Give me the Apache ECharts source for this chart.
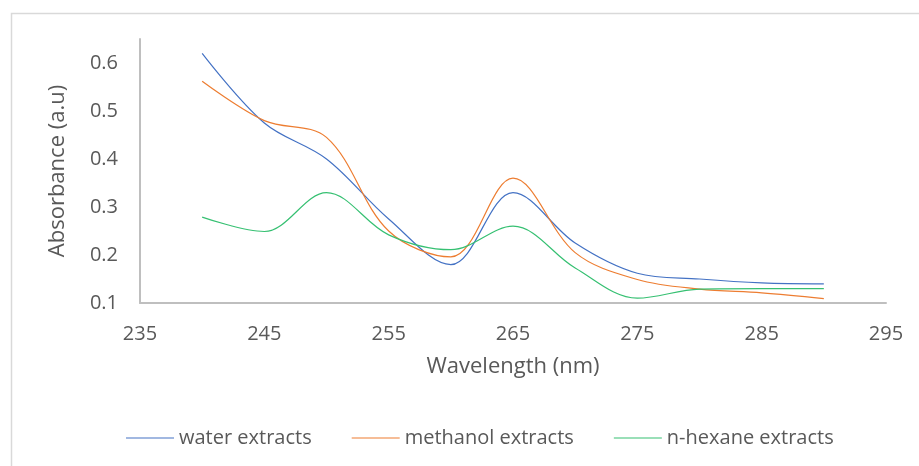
<!DOCTYPE html>
<html>
<head>
<meta charset="utf-8">
<script src="https://cdn.jsdelivr.net/npm/echarts@6/dist/echarts.min.js"></script>
<style>
html,body{margin:0;padding:0;background:#fff;}
#chart{width:919px;height:466px;}
</style>
</head>
<body>
<div id="chart"></div>
<script>
const wavelengths = [240, 245, 250, 255, 260, 265, 270, 275, 280, 285, 290];
const waterExtracts = [0.62, 0.475, 0.40, 0.275, 0.18, 0.33, 0.225, 0.162, 0.15, 0.142, 0.14];
const methanolExtracts = [0.562, 0.48, 0.445, 0.25, 0.196, 0.36, 0.205, 0.149, 0.129, 0.121, 0.109];
const hexaneExtracts = [0.279, 0.249, 0.33, 0.242, 0.211, 0.26, 0.173, 0.11, 0.129, 0.13, 0.13];
const seriesNames = ['water extracts', 'methanol extracts', 'n-hexane extracts'];
const xTicks = [235, 245, 255, 265, 275, 285, 295];
const yTicks = [0.1, 0.2, 0.3, 0.4, 0.5, 0.6];

const toPairs = arr => wavelengths.map((w, i) => [w, arr[i]]);
const colors = ['#4472C4', '#ED7D31', '#36C072'];
const font = 'Open Sans';
const txt = '#595959';

const chart = echarts.init(document.getElementById('chart'), null, {renderer: 'canvas'});
chart.setOption({
  animation: false,
  backgroundColor: '#fff',
  graphic: [{
    type: 'rect', left: 9, top: 11, silent: true,
    shape: {x: 0, y: 0, width: 960, height: 500},
    style: {fill: 'none', stroke: '#d9d9d9', lineWidth: 1.5}
  }],
  grid: {left: 140, right: 33, top: 39, bottom: 163},
  legend: {
    data: seriesNames,
    bottom: 13,
    left: 121,
    itemWidth: 48,
    itemHeight: 10,
    itemGap: 40,
    icon: 'path://M0,4.5 L48,4.5 L48,5.5 L0,5.5 Z',
    textStyle: {color: txt, fontFamily: font, fontSize: 20, padding: [0, 0, 0, 0]}
  },
  xAxis: {
    type: 'value',
    min: 235, max: 295, interval: 10,
    name: 'Wavelength (nm)',
    nameLocation: 'middle',
    nameGap: 53,
    nameTextStyle: {color: txt, fontFamily: font, fontSize: 22},
    axisLine: {show: true, lineStyle: {color: '#bfbfbf', width: 2}},
    axisTick: {show: false},
    splitLine: {show: false},
    axisLabel: {color: txt, fontFamily: font, fontSize: 20, margin: 21,
      formatter: v => xTicks.includes(v) ? String(v) : ''}
  },
  yAxis: {
    type: 'value',
    min: 0.1, max: 0.65, interval: 0.1,
    name: 'Absorbance (a.u)',
    nameLocation: 'middle',
    nameGap: 71,
    nameTextStyle: {color: txt, fontFamily: font, fontSize: 22},
    axisLine: {show: true, lineStyle: {color: '#bfbfbf', width: 2}},
    axisTick: {show: false},
    splitLine: {show: false},
    axisLabel: {color: txt, fontFamily: font, fontSize: 20, margin: 22, showMaxLabel: false,
      formatter: v => {
        const t = yTicks.find(y => Math.abs(y - v) < 1e-6);
        return t !== undefined ? t.toFixed(1) : '';
      }}
  },
  series: [
    {name: seriesNames[0], type: 'line', data: toPairs(waterExtracts), smooth: 0.35, showSymbol: false,
      lineStyle: {color: colors[0], width: 1.2}, itemStyle: {color: colors[0]}},
    {name: seriesNames[1], type: 'line', data: toPairs(methanolExtracts), smooth: 0.35, showSymbol: false,
      lineStyle: {color: colors[1], width: 1.2}, itemStyle: {color: colors[1]}},
    {name: seriesNames[2], type: 'line', data: toPairs(hexaneExtracts), smooth: 0.35, showSymbol: false,
      lineStyle: {color: colors[2], width: 1.2}, itemStyle: {color: colors[2]}}
  ]
});
</script>
</body>
</html>
